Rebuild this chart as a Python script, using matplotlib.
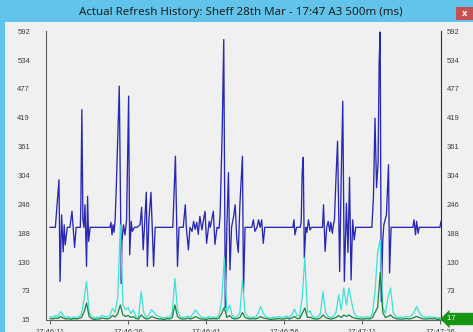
import matplotlib
matplotlib.use("Agg")
import matplotlib.pyplot as plt
from matplotlib.patches import Rectangle

# Actual refresh time (ms), blue series as sampled points
blue_t = [0.0, 1.0, 1.3, 1.7, 1.9, 2.2, 2.5, 2.7, 2.9, 3.3, 3.8, 4.2, 4.7, 5.0,
          5.8, 5.9, 6.1, 6.3, 6.5, 6.7, 7.0, 7.2, 7.4, 7.7, 11.5, 11.7, 11.9,
          12.1, 12.3, 12.5, 12.7, 13.3, 13.7, 13.8, 14.1, 14.4, 14.7, 15.1,
          15.3, 15.6, 15.8, 16.2, 16.7, 17.3, 17.6, 17.9, 18.5, 18.7, 19.0,
          19.4, 19.9, 20.2, 23.6, 24.1, 24.5, 24.8, 25.6, 26.0, 26.2, 26.6,
          26.9, 27.3, 27.6, 27.9, 28.2, 28.5, 28.8, 29.2, 29.5, 29.8, 30.1,
          30.6, 30.8, 31.4, 31.7, 32.1, 32.5, 32.7, 32.9, 33.1, 33.4, 33.7,
          34.0, 34.3, 34.6, 34.9, 35.3, 35.6, 35.9, 36.2, 36.5, 37.0, 37.2,
          37.5, 38.8, 39.1, 39.4, 39.8, 40.1, 40.4, 40.7, 41.0, 41.3, 46.7,
          46.9, 47.1, 47.4, 48.1, 48.3, 48.5, 48.7, 48.9, 49.2, 49.4, 49.7,
          50.0, 50.3, 52.4, 52.6, 52.9, 53.2, 53.5, 53.8, 54.0, 54.3, 54.5,
          54.7, 55.0, 55.3, 55.7, 56.0, 56.3, 56.6, 57.0, 57.3, 57.6, 57.9,
          58.2, 58.5, 58.8, 61.9, 62.2, 62.5, 62.8, 63.1, 63.3, 63.5, 63.7,
          64.0, 64.2, 64.7, 65.1, 65.3, 65.6, 69.8, 70.0, 70.3, 70.5, 70.8,
          71.0, 75.0, 75.2]
blue_v = [200, 200, 240, 295, 92, 225, 151, 205, 165, 200, 200, 232, 160, 200,
          200, 242, 435, 215, 200, 245, 122, 262, 172, 200, 200, 210, 185,
          205, 190, 215, 272, 482, 88, 170, 205, 185, 215, 462,
          145, 212, 192, 200, 200, 205, 240, 155, 270, 122, 215,
          270, 122, 200, 200, 342, 122, 200, 200, 245, 200, 155,
          200, 192, 212, 196, 210, 186, 222, 195, 215, 232, 168,
          212, 200, 232, 166, 200, 198, 225, 312, 392, 575, 40,
          200, 309, 115, 200, 222, 245, 178, 150, 245, 342, 70,
          200, 200, 215, 192, 200, 215, 200, 215, 168, 200, 200,
          215, 185, 200, 200, 210, 312, 340, 139, 200, 190, 215,
          195, 200, 200, 245, 152, 200, 212, 192, 210, 188, 205,
          215, 300, 372, 112, 300, 452, 92, 248, 150, 300, 95,
          215, 175, 200, 200, 260, 418, 279, 330, 531, 590, 52,
          175, 205, 225, 325, 109, 200, 200, 215, 185, 212, 188,
          200, 200, 212]

# cyan and green series, one sample every 0.5 s
step = 0.5
cyan_v = [22, 20, 24, 22, 32, 24, 20, 22, 19, 21, 20, 22, 26, 55, 92, 30,
          22, 19, 21, 20, 24, 22, 21, 25, 38, 30, 60, 205, 45, 35, 40, 28,
          35, 22, 20, 72, 30, 20, 25, 36, 30, 24, 22, 20, 19, 21, 20, 30,
          98, 35, 22, 20, 21, 23, 20, 28, 35, 28, 21, 20, 19, 22, 20, 21,
          20, 25, 55, 140, 30, 45, 25, 20, 22, 30, 95, 30, 22, 20, 21, 20,
          28, 42, 28, 22, 20, 19, 21, 20, 22, 20, 21, 23, 20, 25, 37, 24,
          22, 60, 140, 30, 33, 22, 20, 21, 28, 72, 30, 22, 20, 22, 30, 65,
          35, 79, 45, 79, 50, 28, 22, 20, 21, 20, 22, 20, 28, 70, 150, 175,
          40, 28, 60, 79, 30, 22, 20, 21, 20, 22, 21, 24, 30, 42, 30, 24,
          21, 20, 22, 20, 21, 19, 20]
green_v = [18, 17, 19, 18, 22, 19, 17, 18, 16, 18, 17, 18, 20, 30, 49, 22,
           18, 16, 17, 17, 19, 18, 17, 19, 24, 21, 28, 45, 25, 22, 24, 20,
           22, 18, 17, 25, 20, 17, 18, 22, 20, 18, 17, 17, 16, 18, 17, 20,
           45, 22, 18, 17, 17, 19, 17, 19, 22, 19, 17, 17, 16, 18, 17, 18,
           17, 19, 28, 40, 20, 24, 19, 17, 18, 20, 30, 20, 18, 17, 18, 17,
           19, 22, 19, 18, 17, 16, 17, 17, 18, 17, 17, 19, 17, 19, 22, 18,
           18, 28, 39, 20, 21, 18, 17, 17, 19, 25, 20, 18, 17, 18, 20, 24,
           20, 25, 22, 25, 21, 19, 18, 17, 17, 17, 18, 17, 20, 30, 40, 110,
           30, 20, 22, 25, 20, 18, 17, 17, 17, 18, 17, 18, 20, 22, 20, 18,
           17, 17, 18, 17, 18, 16, 17]
sample_t = [i * step for i in range(len(cyan_v))]

y_ticks = [15, 73, 130, 188, 246, 304, 361, 419, 477, 534, 592]
x_ticks = [0, 15, 30, 45, 60, 75]
x_labels = ["17:46:11", "17:46:26", "17:46:41", "17:46:56", "17:47:11", "17:47:26"]
title = "Actual Refresh History: Sheff 28th Mar - 17:47 A3 500m (ms)"

W, H = 473, 332
fig = plt.figure(figsize=(W / 100, H / 100), dpi=100)
fig.patch.set_facecolor("#f0f0f0")

# window chrome
fig.patches.append(Rectangle((0, 1 - 22 / H), 1, 22 / H, transform=fig.transFigure,
                             facecolor="#62c4eb", edgecolor="none", zorder=0))
fig.patches.append(Rectangle((0, 0), 5 / W, 1, transform=fig.transFigure,
                             facecolor="#62c4eb", edgecolor="none", zorder=0))
fig.patches.append(Rectangle((456 / W, 1 - 20 / H), 17 / W, 13 / H, transform=fig.transFigure,
                             facecolor="#c75050", edgecolor="none", zorder=1))
fig.text(464.5 / W, 1 - 13.5 / H, "x", color="white", fontsize=6, fontweight="bold",
         ha="center", va="center")
fig.text(241 / W, 1 - 12 / H, title, ha="center", va="center", fontsize=8.3,
         family="Noto Sans", color="#1e1e1e")

ax = fig.add_axes([46 / W, 12 / H, 395 / W, 289 / H])
ax.set_facecolor("none")
ax.plot(blue_t, blue_v, color="#2828b2", lw=0.95)
ax.plot(sample_t, cyan_v, color="#3ee0d6", lw=0.9)
ax.plot(sample_t, green_v, color="#17853a", lw=0.9)

ax.set_xlim(-0.8, 75.2)
ax.set_ylim(15, 592)
ax.spines["top"].set_visible(False)
for s in ["left", "bottom"]:
    ax.spines[s].set_color("#606060")
ax.spines["right"].set_color("#303030")

ax.set_yticks(y_ticks)
ax.tick_params(axis="y", length=0, pad=11.5, labelsize=5.5, labelcolor="#404040")
ax.set_xticks(x_ticks)
ax.set_xticklabels(x_labels)
ax.tick_params(axis="x", length=3, pad=3.5, labelsize=5.5, color="#606060",
               labelcolor="#404040")
for lab in ax.get_xticklabels() + ax.get_yticklabels():
    lab.set_family("Liberation Sans")

# right-hand scale; its lowest label sits under the value flag
ax2 = ax.twinx()
ax2.set_ylim(15, 592)
ax2.set_yticks(y_ticks[1:])
ax2.tick_params(axis="y", length=0, pad=4, labelsize=5.5, labelcolor="#404040")
for lab in ax2.get_yticklabels():
    lab.set_family("Liberation Sans")
for s in ax2.spines.values():
    s.set_visible(False)

# current value flag for the green series
ax2.text(sample_t[-1] + 1.4, green_v[-1], f"{green_v[-1]}       ", ha="left", va="center",
         fontsize=5.5, color="white", family="Liberation Sans", clip_on=False, zorder=5,
         bbox=dict(boxstyle="larrow,pad=0.35", fc="#169416", ec="none"))

fig.savefig("out.png", dpi=100, facecolor=fig.get_facecolor())
